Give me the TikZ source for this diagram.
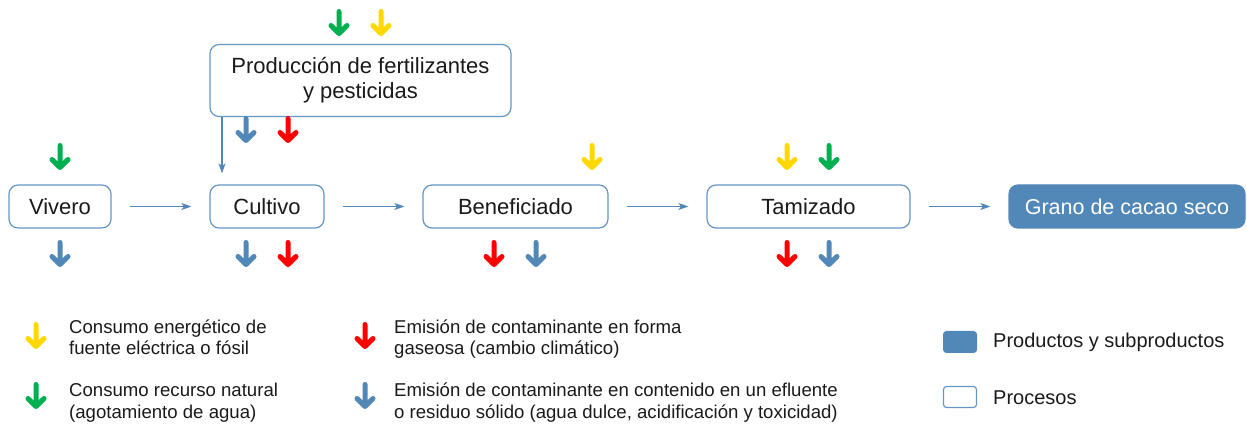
\documentclass[tikz,border=0pt]{standalone}
\usepackage{fontspec}
\setmainfont{Liberation Sans}
\usetikzlibrary{arrows.meta}
\definecolor{iblue}{HTML}{5288B8}
\definecolor{edgeblue}{HTML}{6496C6}
\definecolor{igreen}{HTML}{00B050}
\definecolor{iyellow}{HTML}{FFD800}
\definecolor{ired}{HTML}{FF0000}
\definecolor{ink}{HTML}{1A1A1A}
\begin{document}
\begin{tikzpicture}[x=1pt,y=-1pt,
  proc/.style={draw=edgeblue, line width=1.2pt, rounded corners=9pt, fill=white, text=ink,
    font=\fontsize{22}{25}\selectfont, inner sep=0pt, align=center, minimum height=43pt},
  prod/.style={fill=iblue, draw=iblue, line width=1.2pt, rounded corners=9pt, text=white,
    font=\fontsize{21.5}{25}\selectfont, inner sep=0pt, minimum width=236pt, minimum height=43pt},
  flow/.style={draw=iblue, line width=1.2pt, -{Stealth[length=10pt,width=7pt,inset=2.5pt]},
    shorten <=18pt, shorten >=18pt},
  lg/.style={font=\fontsize{18.6}{21.5}\selectfont, text=ink, anchor=base west, align=left, inner sep=0pt},
  lgb/.style={font=\fontsize{20}{23}\selectfont, text=ink, anchor=west, inner sep=0pt},
  pics/imp/.style={code={\draw[line width=5pt, line cap=round, line join=round, draw=#1]
    (0,2.5) -- (0,24.5) (-8,16.5) -- (0,24.5) -- (8,16.5);}}
]
\useasboundingbox (0,0) rectangle (1247,427);

% process nodes
\node[proc, minimum width=102pt] (viv) at (60,206.5) {Vivero};
\node[proc, minimum width=114pt] (cul) at (267,206.5) {Cultivo};
\node[proc, minimum width=185pt] (ben) at (515.5,206.5) {Beneficiado};
\node[proc, minimum width=203pt] (tam) at (808.5,206.5) {Tamizado};
\node[prod] (gra) at (1127,206.5) {Grano de cacao seco};
\node[proc, minimum width=301pt, minimum height=72pt] (fer) at (360.5,80.5) {Producción de fertilizantes\\y pesticidas};

% connectors
\draw[flow] (viv) -- (cul);
\draw[flow] (cul) -- (ben);
\draw[flow] (ben) -- (tam);
\draw[flow] (tam) -- (gra);
\coordinate (vx) at (222,0);
\draw[flow, shorten <=0pt, shorten >=11pt] (fer.south -| vx) -- (cul.north -| vx);

% impact arrows
\pic at (339,9) {imp=igreen};
\pic at (381,9) {imp=iyellow};
\pic at (246,116) {imp=iblue};
\pic at (288,116) {imp=ired};
\pic at (60,143) {imp=igreen};
\pic at (60,240) {imp=iblue};
\pic at (246,240) {imp=iblue};
\pic at (288,240) {imp=ired};
\pic at (592,143) {imp=iyellow};
\pic at (494,240) {imp=ired};
\pic at (536,240) {imp=iblue};
\pic at (787,143) {imp=iyellow};
\pic at (829,143) {imp=igreen};
\pic at (787,240) {imp=ired};
\pic at (829,240) {imp=iblue};

% legend
\pic at (36,322) {imp=iyellow};
\pic at (36,382) {imp=igreen};
\pic at (365,322) {imp=ired};
\pic at (365,382) {imp=iblue};
\node[lg] (l1) at (69,355) {Consumo energético de\\fuente eléctrica o fósil};
\node[lg] (l2) at (69,418) {Consumo recurso natural\\(agotamiento de agua)};
\node[lg] (l3) at (394,355) {Emisión de contaminante en forma\\gaseosa (cambio climático)};
\node[lg] (l4) at (394,418) {Emisión de contaminante en contenido en un efluente\\o residuo sólido (agua dulce, acidificación y toxicidad)};
\node[fill=iblue, draw=iblue, line width=1pt, rounded corners=3pt, minimum width=33pt, minimum height=21pt, inner sep=0pt] (kp) at (960,342) {};
\node[draw=edgeblue, fill=white, line width=1.2pt, rounded corners=3pt, minimum width=33pt, minimum height=21pt, inner sep=0pt] (kr) at (960,397) {};
\node[lgb] (tp) at (993,342) {Productos y subproductos};
\node[lgb] (tr) at (993,398) {Procesos};
\end{tikzpicture}
\end{document}
